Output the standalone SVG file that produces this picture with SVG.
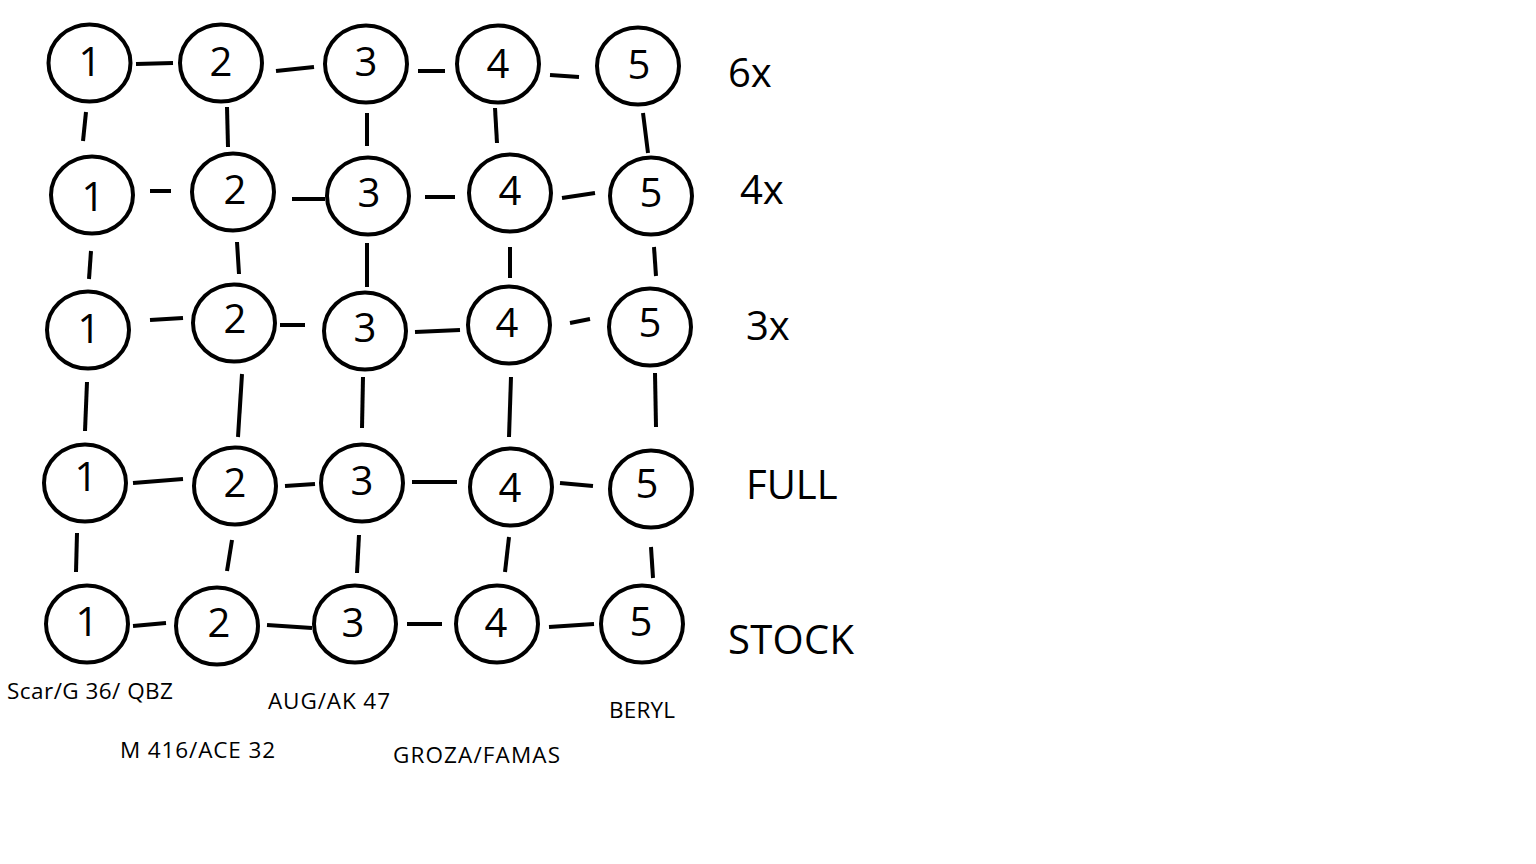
<svg xmlns="http://www.w3.org/2000/svg" width="1536" height="864" viewBox="0 0 1536 864">
<style>
.n ellipse{fill:#fff;stroke:#000;stroke-width:4}
.n text,.lbl,.cap{font-family:"Open Sans","Noto Sans","Liberation Sans",sans-serif;fill:#000}
.n text{font-size:40px;text-anchor:middle}
.lbl{font-size:40px}
.cap{font-size:22.5px}
#connectors line{stroke:#000;stroke-width:4;stroke-linecap:butt}
</style>
<rect width="1536" height="864" fill="#fff"/>
<g id="connectors">
<line x1="136" y1="64" x2="173" y2="63"/>
<line x1="276" y1="71" x2="314" y2="67"/>
<line x1="418" y1="71" x2="445" y2="71"/>
<line x1="550" y1="75" x2="579" y2="77"/>
<line x1="86" y1="112" x2="83" y2="141"/>
<line x1="227" y1="107" x2="228" y2="147"/>
<line x1="367" y1="113" x2="367" y2="146"/>
<line x1="495" y1="108" x2="497" y2="143"/>
<line x1="643" y1="113" x2="648" y2="153"/>
<line x1="150" y1="191" x2="171" y2="191"/>
<line x1="292" y1="199" x2="325" y2="199"/>
<line x1="425" y1="197" x2="455" y2="197"/>
<line x1="562" y1="198" x2="595" y2="193"/>
<line x1="91" y1="251" x2="89" y2="279"/>
<line x1="237" y1="242" x2="239" y2="274"/>
<line x1="367" y1="243" x2="367" y2="287"/>
<line x1="510" y1="247" x2="510" y2="278"/>
<line x1="654" y1="247" x2="656" y2="276"/>
<line x1="150" y1="320" x2="183" y2="318"/>
<line x1="280" y1="325" x2="305" y2="325"/>
<line x1="415" y1="332" x2="460" y2="330"/>
<line x1="570" y1="323" x2="590" y2="319"/>
<line x1="87" y1="382" x2="85" y2="431"/>
<line x1="242" y1="374" x2="238" y2="437"/>
<line x1="363" y1="377" x2="362" y2="428"/>
<line x1="511" y1="377" x2="509" y2="437"/>
<line x1="655" y1="373" x2="656" y2="427"/>
<line x1="133" y1="483" x2="183" y2="479"/>
<line x1="285" y1="486" x2="315" y2="484"/>
<line x1="412" y1="482" x2="457" y2="482"/>
<line x1="560" y1="483" x2="593" y2="486"/>
<line x1="77" y1="533" x2="76" y2="572"/>
<line x1="232" y1="540" x2="227" y2="571"/>
<line x1="359" y1="535" x2="357" y2="573"/>
<line x1="509" y1="537" x2="505" y2="572"/>
<line x1="651" y1="547" x2="653" y2="578"/>
<line x1="133" y1="626" x2="166" y2="623"/>
<line x1="267" y1="625" x2="312" y2="628"/>
<line x1="407" y1="624" x2="442" y2="624"/>
<line x1="549" y1="627" x2="594" y2="624"/>
</g>
<g id="r1c1" class="n"><ellipse cx="89.5" cy="63" rx="41" ry="38.5"/><text x="90" y="76">1</text></g>
<g id="r1c2" class="n"><ellipse cx="221" cy="63" rx="41" ry="38.5"/><text x="221" y="76">2</text></g>
<g id="r1c3" class="n"><ellipse cx="366" cy="64" rx="41" ry="38.5"/><text x="366" y="76">3</text></g>
<g id="r1c4" class="n"><ellipse cx="498" cy="64" rx="41" ry="38.5"/><text x="498" y="78">4</text></g>
<g id="r1c5" class="n"><ellipse cx="638" cy="66" rx="41" ry="38.5"/><text x="639" y="79">5</text></g>
<g id="r2c1" class="n"><ellipse cx="92" cy="195" rx="41" ry="38.5"/><text x="93" y="211">1</text></g>
<g id="r2c2" class="n"><ellipse cx="233" cy="192" rx="41" ry="38.5"/><text x="235" y="204">2</text></g>
<g id="r2c3" class="n"><ellipse cx="368" cy="196" rx="41" ry="38.5"/><text x="369" y="207">3</text></g>
<g id="r2c4" class="n"><ellipse cx="510" cy="193" rx="41" ry="38.5"/><text x="510" y="205">4</text></g>
<g id="r2c5" class="n"><ellipse cx="651" cy="196" rx="41" ry="38.5"/><text x="651" y="207">5</text></g>
<g id="r3c1" class="n"><ellipse cx="88" cy="330" rx="41" ry="38.5"/><text x="89" y="343">1</text></g>
<g id="r3c2" class="n"><ellipse cx="234" cy="323" rx="41" ry="38.5"/><text x="235" y="333">2</text></g>
<g id="r3c3" class="n"><ellipse cx="365" cy="331" rx="41" ry="38.5"/><text x="365" y="342">3</text></g>
<g id="r3c4" class="n"><ellipse cx="509" cy="325" rx="41" ry="38.5"/><text x="507" y="337">4</text></g>
<g id="r3c5" class="n"><ellipse cx="650" cy="327" rx="41" ry="38.5"/><text x="650" y="337">5</text></g>
<g id="r4c1" class="n"><ellipse cx="85" cy="483" rx="41" ry="38.5"/><text x="86" y="491">1</text></g>
<g id="r4c2" class="n"><ellipse cx="235" cy="486" rx="41" ry="38.5"/><text x="235" y="497">2</text></g>
<g id="r4c3" class="n"><ellipse cx="362" cy="483" rx="41" ry="38.5"/><text x="362" y="495">3</text></g>
<g id="r4c4" class="n"><ellipse cx="511" cy="487" rx="41" ry="38.5"/><text x="510" y="502">4</text></g>
<g id="r4c5" class="n"><ellipse cx="651" cy="489" rx="41" ry="38.5"/><text x="647" y="498">5</text></g>
<g id="r5c1" class="n"><ellipse cx="87" cy="624" rx="41" ry="38.5"/><text x="87" y="636">1</text></g>
<g id="r5c2" class="n"><ellipse cx="217" cy="626" rx="41" ry="38.5"/><text x="219" y="637">2</text></g>
<g id="r5c3" class="n"><ellipse cx="355" cy="624" rx="41" ry="38.5"/><text x="353" y="637">3</text></g>
<g id="r5c4" class="n"><ellipse cx="497" cy="624" rx="41" ry="38.5"/><text x="496" y="637">4</text></g>
<g id="r5c5" class="n"><ellipse cx="642" cy="624" rx="41" ry="38.5"/><text x="641" y="636">5</text></g>
<text class="lbl" x="728" y="87">6x</text>
<text class="lbl" x="740" y="204">4x</text>
<text class="lbl" x="746" y="340">3x</text>
<text class="lbl" x="746" y="499">FULL</text>
<text class="lbl" x="728" y="654" textLength="126" lengthAdjust="spacing">STOCK</text>
<text class="cap" x="7" y="699" textLength="166" lengthAdjust="spacing">Scar/G 36/ QBZ</text>
<text class="cap" x="268" y="709" textLength="122" lengthAdjust="spacing">AUG/AK 47</text>
<text class="cap" x="120" y="758" textLength="155" lengthAdjust="spacing">M 416/ACE 32</text>
<text class="cap" x="393" y="763" textLength="167" lengthAdjust="spacing">GROZA/FAMAS</text>
<text class="cap" x="609" y="718" textLength="66" lengthAdjust="spacing">BERYL</text>
</svg>
